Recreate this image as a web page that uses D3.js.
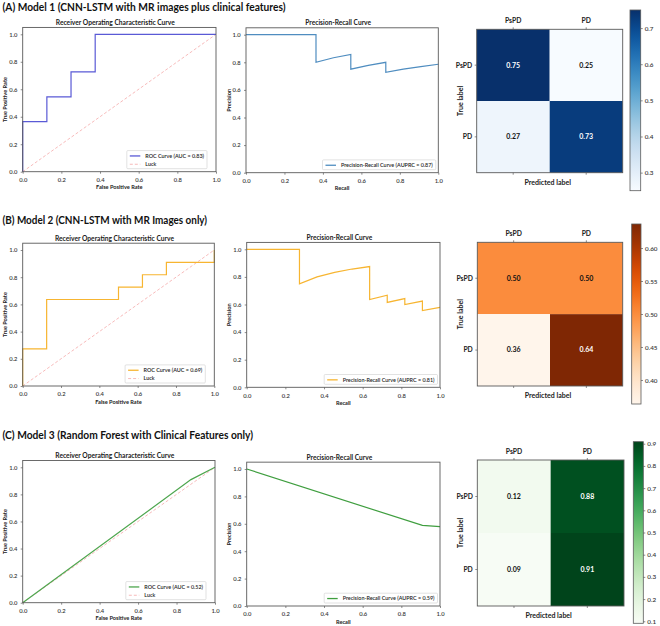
<!DOCTYPE html>
<html><head><meta charset="utf-8">
<script src="https://cdn.jsdelivr.net/npm/d3@7"></script>
<style>
body{margin:0;background:#fff}
svg{display:block}
text{font-family:Lato,"Open Sans",sans-serif;fill:#222}
</style>
</head><body>
<svg id="chart" width="660" height="626"></svg>
<script>
// ---------------- DATA ----------------
const headings = [
  "(A)  Model 1 (CNN-LSTM with MR images plus clinical features)",
  "(B) Model 2 (CNN-LSTM with MR Images only)",
  "(C) Model 3 (Random Forest with Clinical Features only)"
];
const rocFprA = [0, 0, 0.125, 0.125, 0.25, 0.25, 0.375, 0.375, 1];
const rocTprA = [0, 0.364, 0.364, 0.545, 0.545, 0.727, 0.727, 1, 1];
const rocFprB = [0, 0, 0.125, 0.125, 0.5, 0.5, 0.625, 0.625, 0.75, 0.75, 1, 1];
const rocTprB = [0, 0.273, 0.273, 0.636, 0.636, 0.727, 0.727, 0.818, 0.818, 0.909, 0.909, 1];
const rocFprC = [0, 0.875, 1];
const rocTprC = [0, 0.909, 1];

const prRecallA = [0, 0.364, 0.364, 0.455, 0.545, 0.545, 0.636, 0.727, 0.727, 0.818, 0.909, 1];
const prPrecA   = [1, 1, 0.8, 0.833, 0.857, 0.75, 0.778, 0.8, 0.727, 0.75, 0.769, 0.786];
const prRecallB = [0, 0.273, 0.273, 0.364, 0.455, 0.545, 0.636, 0.636, 0.727, 0.727, 0.818, 0.818, 0.909, 0.909, 1];
const prPrecB   = [1, 1, 0.75, 0.8, 0.833, 0.857, 0.875, 0.636, 0.667, 0.615, 0.643, 0.6, 0.625, 0.556, 0.579];
const prRecallC = [0, 0.909, 1];
const prPrecC   = [1, 0.588, 0.579];

const aucValues = ["0.83", "0.69", "0.52"];
const auprcValues = ["0.87", "0.81", "0.59"];
const classLabels = ["PsPD", "PD"];
const cmA = [[0.75, 0.25], [0.2727, 0.7273]];
const cmB = [[0.50, 0.50], [0.3636, 0.6364]];
const cmC = [[0.12, 0.88], [0.0909, 0.9091]];
const axisTicks = [0, 0.2, 0.4, 0.6, 0.8, 1.0];
const cbTicksA = [0.3, 0.4, 0.5, 0.6, 0.7];
const cbTicksB = [0.40, 0.45, 0.50, 0.55, 0.60];
const cbTicksC = [0.1, 0.2, 0.3, 0.4, 0.5, 0.6, 0.7, 0.8, 0.9];

// ---------------- STYLE / LAYOUT ----------------
const rows = [
  { head: headings[0], headW: 283, headY: 10.5,
    roc: {fpr: rocFprA, tpr: rocTprA, auc: aucValues[0]},
    pr: {rec: prRecallA, prec: prPrecA, auprc: auprcValues[0]},
    rocColor: "#5a5ad6", prColor: "#4f8dc0",
    cm: cmA, cmap: d3.interpolateBlues, cbTicks: cbTicksA, cbFmt: ".1f",
    rocBox: {x0: 22.7, x1: 216, y0: 171.7, y1: 34.3},
    prBox: {x0: 246, x1: 438.3, y0: 172.7, y1: 34.7},
    cmBox: {x0: 476.7, x1: 622.7, y0: 29.3, y1: 172.7},
    cbBox: {x0: 630, x1: 640.7, y0: 10, y1: 190.7} },
  { head: headings[1], headW: 204.6, headY: 224,
    roc: {fpr: rocFprB, tpr: rocTprB, auc: aucValues[1]},
    pr: {rec: prRecallB, prec: prPrecB, auprc: auprcValues[1]},
    rocColor: "#f7b531", prColor: "#f7b531",
    cm: cmB, cmap: d3.interpolateOranges, cbTicks: cbTicksB, cbFmt: ".2f",
    rocBox: {x0: 22.7, x1: 214.3, y0: 386, y1: 250},
    prBox: {x0: 246.7, x1: 440, y0: 387.3, y1: 249.3},
    cmBox: {x0: 477.3, x1: 622.7, y0: 242.3, y1: 386},
    cbBox: {x0: 631.7, x1: 641, y0: 224, y1: 404} },
  { head: headings[2], headW: 250.6, headY: 439,
    roc: {fpr: rocFprC, tpr: rocTprC, auc: aucValues[2]},
    pr: {rec: prRecallC, prec: prPrecC, auprc: auprcValues[2]},
    rocColor: "#4ea64e", prColor: "#3f9e3f",
    cm: cmC, cmap: d3.interpolateGreens, cbTicks: cbTicksC, cbFmt: ".1f",
    rocBox: {x0: 22.7, x1: 215, y0: 602.7, y1: 467.3},
    prBox: {x0: 246.7, x1: 440, y0: 606, y1: 469},
    cmBox: {x0: 477.3, x1: 624, y0: 460, y1: 606},
    cbBox: {x0: 633.3, x1: 643.3, y0: 441.7, y1: 623.3} }
];

const svg = d3.select("#chart");
const frameColor = "#5a5a5a";
const f1 = d3.format(".1f");

function curvePanel(g, box, xs, ys, color, title, titleW, xLabel, yLabel, legendItems, luck, legendRightGap) {
  const x = d3.scaleLinear().domain([0, 1]).range([box.x0, box.x1]);
  const y = d3.scaleLinear().domain([0, 1]).range([box.y0, box.y1]);
  const top = y(1.05);

  const xa = d3.axisBottom(x).tickValues(axisTicks).tickFormat(f1).tickSize(2).tickPadding(4.3);
  const ya = d3.axisLeft(y).tickValues(axisTicks).tickFormat(f1).tickSize(2).tickPadding(3.3);
  const gx = g.append("g").attr("transform", `translate(0,${box.y0})`).call(xa);
  const gy = g.append("g").attr("transform", `translate(${box.x0},0)`).call(ya);
  [gx, gy].forEach(a => {
    a.select(".domain").remove();
    a.selectAll("line").attr("stroke", frameColor).attr("stroke-width", 0.7);
    a.selectAll("text").attr("font-size", 5.8).attr("font-family", "Lato, sans-serif").attr("font-weight", 600).style("fill", "#333");
  });

  if (luck) {
    g.append("line").attr("x1", x(0)).attr("y1", y(0)).attr("x2", x(1)).attr("y2", y(1))
      .attr("stroke", "#f5aaaa").attr("stroke-width", 0.8).attr("stroke-dasharray", "3,2");
  }
  const pts = xs.map((v, i) => [v, ys[i]]);
  g.append("path").datum(pts)
    .attr("d", d3.line().x(d => x(d[0])).y(d => y(d[1])))
    .attr("fill", "none").attr("stroke", color).attr("stroke-width", 1.2);

  g.append("rect").attr("x", box.x0).attr("y", top).attr("width", box.x1 - box.x0).attr("height", box.y0 - top)
    .attr("fill", "none").attr("stroke", frameColor).attr("stroke-width", 0.9);

  g.append("text").attr("x", (box.x0 + box.x1) / 2 - 4).attr("y", top - 2.6)
    .attr("text-anchor", "middle").attr("font-size", 6.6).attr("font-weight", 700)
    .attr("textLength", titleW).attr("lengthAdjust", "spacingAndGlyphs").text(title);
  g.append("text").attr("x", (box.x0 + box.x1) / 2).attr("y", box.y0 + 17.5)
    .attr("text-anchor", "middle").attr("font-size", 5.6).attr("font-weight", 700).text(xLabel);
  g.append("text").attr("transform", `translate(${box.x0 - 15.5},${(top + box.y0) / 2}) rotate(-90)`)
    .attr("text-anchor", "middle").attr("font-size", 5.6).attr("font-weight", 700).text(yLabel);

  const lg = g.append("g");
  const rowH = 8.3;
  const texts = legendItems.map(it => lg.append("text").attr("font-size", 5.4).attr("font-weight", 600).text(it.label));
  const tw = d3.max(texts, t => t.node().getComputedTextLength());
  const bw = 3 + 10.5 + 5 + tw + 3;
  const bh = legendItems.length * rowH + 1.5;
  const bx = box.x1 - legendRightGap - bw;
  const by = box.y0 - 3 - bh;
  lg.insert("rect", "text").attr("x", bx).attr("y", by).attr("width", bw).attr("height", bh)
    .attr("rx", 1).attr("fill", "#fff").attr("stroke", "#cfcfcf").attr("stroke-width", 0.6);
  legendItems.forEach((it, i) => {
    const cy = by + 1.2 + rowH * (i + 0.5);
    lg.append("line").attr("x1", bx + 3).attr("x2", bx + 13.5).attr("y1", cy).attr("y2", cy)
      .attr("stroke", it.color).attr("stroke-width", it.dash ? 0.8 : 1.3)
      .attr("stroke-dasharray", it.dash ? "3,2" : null);
    texts[i].attr("x", bx + 18.5).attr("y", cy + 1.9);
  });
}

function cmPanel(g, box, cb, cm, cmap, cbTicks, cbFmt) {
  const flat = cm.flat();
  const vmin = d3.min(flat), vmax = d3.max(flat);
  const color = d3.scaleSequential(cmap).domain([vmin, vmax]);
  const xb = d3.scaleBand().domain(classLabels).range([box.x0, box.x1]);
  const yb = d3.scaleBand().domain(classLabels).range([box.y0, box.y1]);
  const mid = (vmin + vmax) / 2;
  cm.forEach((row, i) => row.forEach((v, j) => {
    g.append("rect").attr("x", xb(classLabels[j])).attr("y", yb(classLabels[i]))
      .attr("width", xb.bandwidth()).attr("height", yb.bandwidth()).attr("fill", color(v));
    g.append("text").attr("x", xb(classLabels[j]) + xb.bandwidth() / 2)
      .attr("y", yb(classLabels[i]) + yb.bandwidth() / 2 + 2.4)
      .attr("text-anchor", "middle").attr("font-size", 7).attr("font-weight", 700)
      .style("fill", v > mid ? "#fff" : "#111").text(d3.format(".2f")(v));
  }));
  g.append("rect").attr("x", box.x0).attr("y", box.y0).attr("width", box.x1 - box.x0).attr("height", box.y1 - box.y0)
    .attr("fill", "none").attr("stroke", frameColor).attr("stroke-width", 0.9);
  classLabels.forEach(c => {
    const cx = xb(c) + xb.bandwidth() / 2;
    const cy = yb(c) + yb.bandwidth() / 2;
    g.append("line").attr("x1", cx).attr("x2", cx).attr("y1", box.y0).attr("y2", box.y0 - 2).attr("stroke", frameColor).attr("stroke-width", 0.7);
    g.append("line").attr("x1", cx).attr("x2", cx).attr("y1", box.y1).attr("y2", box.y1 + 2).attr("stroke", frameColor).attr("stroke-width", 0.7);
    g.append("line").attr("x1", box.x0).attr("x2", box.x0 - 2).attr("y1", cy).attr("y2", cy).attr("stroke", frameColor).attr("stroke-width", 0.7);
    g.append("text").attr("x", cx).attr("y", box.y0 - 6).attr("text-anchor", "middle")
      .attr("font-size", 6.8).attr("font-weight", 700).text(c);
    g.append("text").attr("x", box.x0 - 4.5).attr("y", cy + 2.4).attr("text-anchor", "end")
      .attr("font-size", 6.8).attr("font-weight", 700).text(c);
  });
  g.append("text").attr("x", (box.x0 + box.x1) / 2 - 2).attr("y", box.y1 + 12)
    .attr("text-anchor", "middle").attr("font-size", 7).attr("font-weight", 700).text("Predicted label");
  g.append("text").attr("transform", `translate(${box.x0 - 14},${(box.y0 + box.y1) / 2}) rotate(-90)`)
    .attr("text-anchor", "middle").attr("font-size", 7).attr("font-weight", 700).text("True label");

  const id = "grad" + Math.round(cb.y0);
  const grad = svg.append("defs").append("linearGradient").attr("id", id)
    .attr("x1", 0).attr("y1", 1).attr("x2", 0).attr("y2", 0);
  d3.range(0, 1.0001, 0.05).forEach(t => grad.append("stop").attr("offset", t).attr("stop-color", cmap(t)));
  g.append("rect").attr("x", cb.x0).attr("y", cb.y0).attr("width", cb.x1 - cb.x0).attr("height", cb.y1 - cb.y0)
    .attr("fill", `url(#${id})`).attr("stroke", frameColor).attr("stroke-width", 0.8);
  const cs = d3.scaleLinear().domain([vmin, vmax]).range([cb.y1, cb.y0]);
  const ca = d3.axisRight(cs).tickValues(cbTicks).tickFormat(d3.format(cbFmt)).tickSize(2).tickPadding(2);
  const gc = g.append("g").attr("transform", `translate(${cb.x1},0)`).call(ca);
  gc.select(".domain").remove();
  gc.selectAll("line").attr("stroke", frameColor).attr("stroke-width", 0.7);
  gc.selectAll("text").attr("font-size", 6.3).attr("font-family", "Lato, sans-serif").attr("font-weight", 600).style("fill", "#333");
}

rows.forEach(r => {
  const g = svg.append("g");
  g.append("text").attr("x", 2.5).attr("y", r.headY).attr("font-size", 11).attr("font-weight", 700)
    .attr("textLength", r.headW).attr("lengthAdjust", "spacingAndGlyphs").style("fill", "#111").text(r.head);
  curvePanel(g, r.rocBox, r.roc.fpr, r.roc.tpr, r.rocColor, "Receiver Operating Characteristic Curve", 119,
    "False Positive Rate", "True Positive Rate",
    [{label: `ROC Curve (AUC = ${r.roc.auc})`, color: r.rocColor}, {label: "Luck", color: "#f5aaaa", dash: true}], true, 9);
  curvePanel(g, r.prBox, r.pr.rec, r.pr.prec, r.prColor, "Precision-Recall Curve", 65.7,
    "Recall", "Precision",
    [{label: `Precision-Recall Curve (AUPRC = ${r.pr.auprc})`, color: r.prColor}], false, 2.5);
  cmPanel(g, r.cmBox, r.cbBox, r.cm, r.cmap, r.cbTicks, r.cbFmt);
});
</script>
</body></html>
